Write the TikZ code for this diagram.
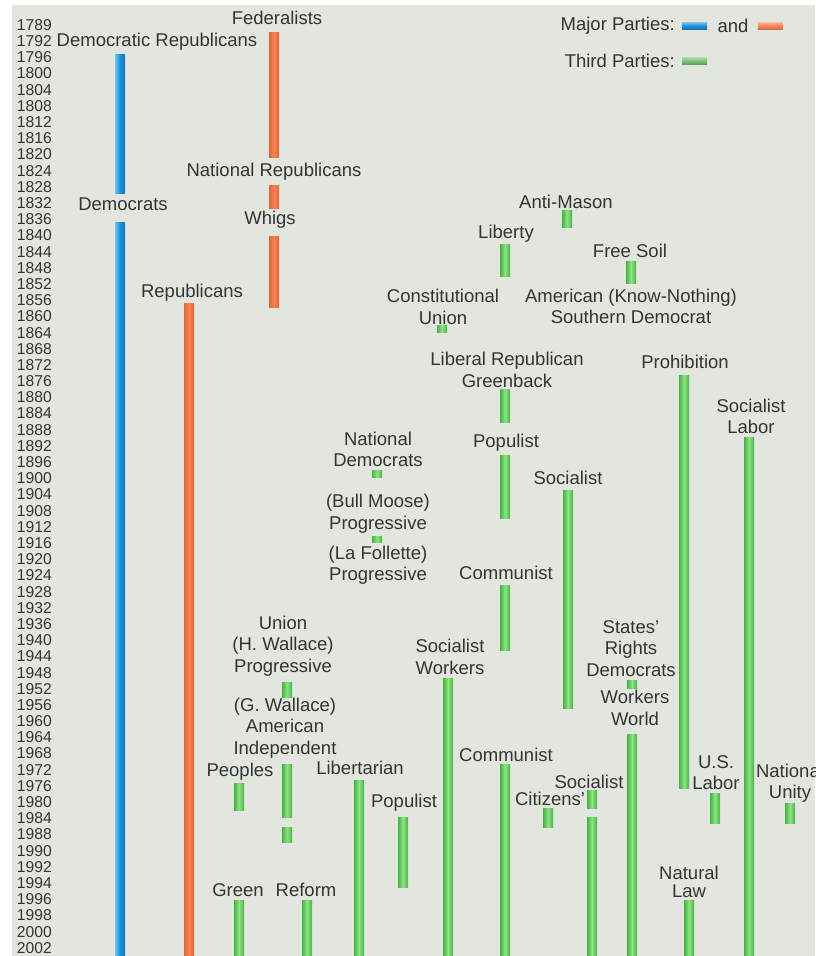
\documentclass[tikz,border=0pt]{standalone}
\usepackage{fontspec}
\setmainfont{Liberation Sans}
\usetikzlibrary{positioning}
\definecolor{bggray}{RGB}{226,230,223}
\definecolor{txtgray}{RGB}{52,52,52}
\definecolor{demblue}{RGB}{26,142,216}
\definecolor{demlight}{RGB}{110,198,240}
\definecolor{demdark}{RGB}{22,120,196}
\definecolor{reporange}{RGB}{248,130,82}
\definecolor{repdark}{RGB}{226,102,60}
\definecolor{thirdgreen}{RGB}{142,226,132}
\definecolor{thirddark}{RGB}{70,178,68}

% one party bar: [style]{x centre}{top}{bottom}
\newcommand{\pbar}[4][thirdbar]{\path[#1] (#2-5,#3) rectangle (#2+5,#4);}

\begin{document}
\begin{tikzpicture}[
    x=1pt,y=-1pt,
    font=\fontsize{18.5}{21.5}\selectfont,
    every node/.style={text=txtgray,inner sep=0pt},
    partylbl/.style={align=center},
    yearlbl/.style={anchor=east,font=\fontsize{15.7}{16}\selectfont},
    bluebar/.style={left color=demlight,right color=demdark,middle color=demblue},
    orangebar/.style={left color=repdark,right color=repdark,middle color=reporange},
    thirdbar/.style={left color=thirddark,right color=thirddark,middle color=thirdgreen},
    swatch/.style={minimum width=25pt,minimum height=7pt,top color=#1!60!white,bottom color=#1!80!black,middle color=#1}
  ]
    \useasboundingbox (0,0) rectangle (815,956);
    \clip (0,0) rectangle (815,956);
    \fill[white] (0,0) rectangle (815,956);
    \fill[bggray] (12,5) rectangle (815,956);

    % year column
    \foreach \yr [count=\i from 0] in {1789,1792}
      \node[yearlbl] (y\yr) at (52,25+16.19*\i) {\yr};
    \foreach \yr [count=\i from 2] in {1796,1800,...,1988}
      \node[yearlbl] (y\yr) at (52,25+16.19*\i) {\yr};
    \foreach \yr [count=\i from 51] in {1990,1992,...,2002}
      \node[yearlbl] (y\yr) at (52,25+16.19*\i) {\yr};

    % legend
    \node[anchor=east] (major) at (675,26) {Major Parties:};
    \node[swatch=demblue,right=7pt of major] (swblue) {};
    \node[right=10pt of swblue] (and) {and};
    \node[swatch=reporange,right=9pt of and] (sworange) {};
    \node[anchor=east] (third) at (675,61) {Third Parties:};
    \node[swatch=thirdgreen!85!black,right=7pt of third] (swgreen) {};

    % major parties
    \node[partylbl] (demrep) at (157,42) {Democratic Republicans};
    \node[partylbl] (dems) at (123,204) {Democrats};
    \node[partylbl] (feds) at (277,18) {Federalists};
    \node[partylbl] (natrep) at (274,172) {National Republicans};
    \node[partylbl] (whigs) at (270,220) {Whigs};
    \node[partylbl] (reps) at (192,293) {Republicans};
    \pbar[bluebar]{120}{54}{193}
    \pbar[bluebar]{120}{222}{956}
    \pbar[orangebar]{274}{32}{157}
    \pbar[orangebar]{274}{185}{208}
    \pbar[orangebar]{274}{236}{307}
    \pbar[orangebar]{189}{303}{956}

    % third parties, 19th century
    \node[partylbl] (antimason) at (566,202) {Anti-Mason};
    \node[partylbl] (liberty) at (506,234) {Liberty};
    \node[partylbl] (freesoil) at (630,251) {Free Soil};
    \node[partylbl] (constu) at (443,307) {Constitutional\\Union};
    \node[partylbl] (knownot) at (631,306.5) {American (Know-Nothing)\\Southern Democrat};
    \node[partylbl] (greenback) at (507,370) {Liberal Republican\\Greenback};
    \node[partylbl] (prohib) at (685,362) {Prohibition};
    \node[partylbl] (soclabor) at (751,416.5) {Socialist\\Labor};
    \node[partylbl] (natdem) at (378,449.5) {National\\Democrats};
    \node[partylbl] (populist) at (506,443) {Populist};
    \pbar{567}{210}{227}
    \pbar{505}{244}{276}
    \pbar{631}{261}{283}
    \pbar{442}{325}{332}
    \pbar{505}{389}{422}
    \pbar{684}{375}{788}
    \pbar{749}{437}{956}
    \pbar{377}{470}{477}
    \pbar{505}{455}{518}

    % third parties, 20th century
    \node[partylbl] (socialist) at (568,478) {Socialist};
    \node[partylbl] (bullmoose) at (378,513.5) {(Bull Moose)\\Progressive};
    \node[partylbl] (lafollette) at (378,565) {(La Follette)\\Progressive};
    \node[partylbl] (communist) at (506,573) {Communist};
    \node[partylbl] (hwallace) at (283,646) {Union\\(H. Wallace)\\Progressive};
    \node[partylbl] (statesr) at (631,648.5) {States'\\Rights\\Democrats};
    \node[partylbl] (socworkers) at (450,657) {Socialist\\Workers};
    \node[partylbl] (gwallace) at (285,728) {(G. Wallace)\\American\\Independent};
    \node[partylbl] (workworld) at (635,708) {Workers\\World};
    \pbar{568}{490}{708}
    \pbar{377}{536}{542}
    \pbar{505}{585}{650}
    \pbar{287}{682}{697}
    \pbar{632}{680}{688}
    \pbar{632}{734}{956}
    \pbar{448}{678}{956}

    % late parties
    \node[partylbl] (communist2) at (506,755) {Communist};
    \node[partylbl] (peoples) at (240,772) {Peoples};
    \node[partylbl] (libert) at (360,768) {Libertarian};
    \node[partylbl] (populist2) at (404,803) {Populist};
    \node[partylbl] (socialist2) at (589,782) {Socialist};
    \node[partylbl] (citizens) at (550,799) {Citizens'};
    \node[partylbl] (uslabor) at (716,772.5) {U.S.\\Labor};
    \node[partylbl] (natunity) at (790,783) {National\\Unity};
    \node[partylbl] (natlaw) at (689,882) {Natural\\[-4pt]Law};
    \node[partylbl] (green) at (238,890) {Green};
    \node[partylbl] (reform) at (306,890) {Reform};
    \pbar{505}{764}{956}
    \pbar{239}{783}{810}
    \pbar{287}{764}{817}
    \pbar{287}{827}{842}
    \pbar{359}{780}{956}
    \pbar{403}{817}{887}
    \pbar{592}{790}{808}
    \pbar{592}{817}{956}
    \pbar{548}{808}{827}
    \pbar{715}{793}{823}
    \pbar{790}{803}{823}
    \pbar{689}{900}{956}
    \pbar{239}{900}{956}
    \pbar{307}{900}{956}
  \end{tikzpicture}
\end{document}
